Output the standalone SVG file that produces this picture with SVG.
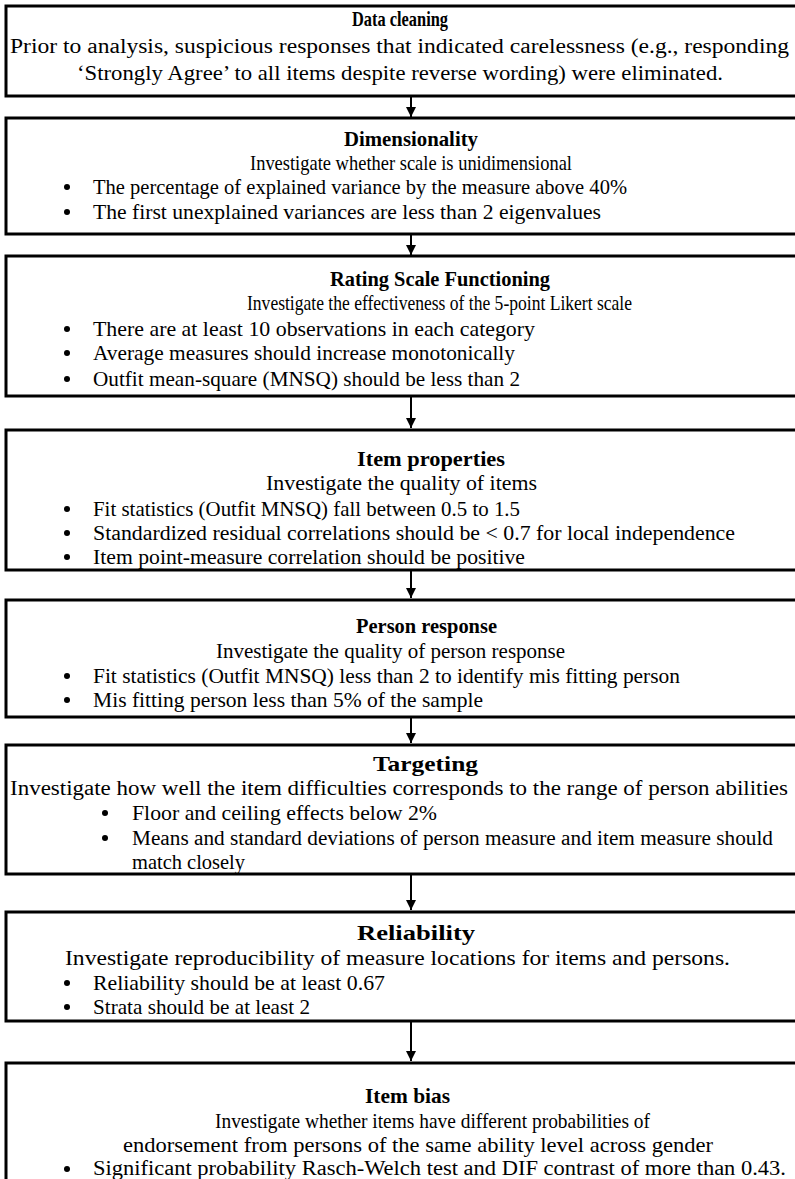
<svg xmlns="http://www.w3.org/2000/svg" width="795" height="1179" viewBox="0 0 795 1179">
<style>
.box{fill:#fff;stroke:#000;stroke-width:3}
text{font-family:"Liberation Serif","Times New Roman",serif;font-size:22px;fill:#000}
.t{font-weight:bold}
.w{font-size:20px}
.b{fill:#000}
.c{stroke:#000;stroke-width:2;fill:none}
</style>
<defs>
<marker id="ah" viewBox="0 0 10 10" refX="10" refY="5" markerWidth="5" markerHeight="5" orient="auto" markerUnits="strokeWidth">
<path d="M0,0 L10,5 L0,10 z" fill="#000"/>
</marker>
</defs>
<rect width="795" height="1179" fill="#fff"/>
<g id="connectors">
<line class="c" x1="411" y1="97" x2="411" y2="117" marker-end="url(#ah)"/>
<line class="c" x1="411" y1="235" x2="411" y2="255" marker-end="url(#ah)"/>
<line class="c" x1="411" y1="397" x2="411" y2="428" marker-end="url(#ah)"/>
<line class="c" x1="411" y1="571" x2="411" y2="598" marker-end="url(#ah)"/>
<line class="c" x1="411" y1="718" x2="411" y2="743" marker-end="url(#ah)"/>
<line class="c" x1="411" y1="875" x2="411" y2="910" marker-end="url(#ah)"/>
<line class="c" x1="411" y1="1022" x2="411" y2="1061" marker-end="url(#ah)"/>
</g>
<g id="node1">
<rect class="box" x="6" y="6" width="800" height="90"/>
<text class="t" x="352" y="26" textLength="96" lengthAdjust="spacingAndGlyphs">Data cleaning</text>
<text class="w" x="10" y="53" textLength="779" lengthAdjust="spacingAndGlyphs">Prior to analysis, suspicious responses that indicated carelessness (e.g., responding</text>
<text x="77" y="80" textLength="646" lengthAdjust="spacingAndGlyphs">‘Strongly Agree’ to all items despite reverse wording) were eliminated.</text>
</g>
<g id="node2">
<rect class="box" x="6" y="118" width="800" height="116"/>
<text class="t" x="344" y="146" textLength="134" lengthAdjust="spacingAndGlyphs">Dimensionality</text>
<text x="250" y="170" textLength="322" lengthAdjust="spacingAndGlyphs">Investigate whether scale is unidimensional</text>
<circle class="b" cx="67" cy="187" r="3"/>
<text x="93" y="194" textLength="534" lengthAdjust="spacingAndGlyphs">The percentage of explained variance by the measure above 40%</text>
<circle class="b" cx="67" cy="212" r="3"/>
<text x="93" y="219" textLength="508" lengthAdjust="spacingAndGlyphs">The first unexplained variances are less than 2 eigenvalues</text>
</g>
<g id="node3">
<rect class="box" x="6" y="256" width="800" height="140"/>
<text class="t" x="330" y="286" textLength="220" lengthAdjust="spacingAndGlyphs">Rating Scale Functioning</text>
<text x="247" y="310" textLength="385" lengthAdjust="spacingAndGlyphs">Investigate the effectiveness of the 5-point Likert scale</text>
<circle class="b" cx="67" cy="329" r="3"/>
<text x="93" y="336" textLength="442" lengthAdjust="spacingAndGlyphs">There are at least 10 observations in each category</text>
<circle class="b" cx="67" cy="353" r="3"/>
<text x="93" y="360" textLength="422" lengthAdjust="spacingAndGlyphs">Average measures should increase monotonically</text>
<circle class="b" cx="67" cy="379" r="3"/>
<text x="93" y="386" textLength="427" lengthAdjust="spacingAndGlyphs">Outfit mean-square (MNSQ) should be less than 2</text>
</g>
<g id="node4">
<rect class="box" x="6" y="430" width="800" height="140"/>
<text class="t" x="357" y="466" textLength="148" lengthAdjust="spacingAndGlyphs">Item properties</text>
<text x="266" y="490" textLength="271" lengthAdjust="spacingAndGlyphs">Investigate the quality of items</text>
<circle class="b" cx="67" cy="509" r="3"/>
<text x="93" y="516" textLength="427" lengthAdjust="spacingAndGlyphs">Fit statistics (Outfit MNSQ) fall between 0.5 to 1.5</text>
<circle class="b" cx="67" cy="533" r="3"/>
<text class="w" x="93" y="540" textLength="642" lengthAdjust="spacingAndGlyphs">Standardized residual correlations should be &lt; 0.7 for local independence</text>
<circle class="b" cx="67" cy="557" r="3"/>
<text x="93" y="564" textLength="432" lengthAdjust="spacingAndGlyphs">Item point-measure correlation should be positive</text>
</g>
<g id="node5">
<rect class="box" x="6" y="600" width="800" height="117"/>
<text class="t" x="356" y="633" textLength="141" lengthAdjust="spacingAndGlyphs">Person response</text>
<text x="216" y="658" textLength="349" lengthAdjust="spacingAndGlyphs">Investigate the quality of person response</text>
<circle class="b" cx="67" cy="676" r="3"/>
<text x="93" y="683" textLength="587" lengthAdjust="spacingAndGlyphs">Fit statistics (Outfit MNSQ) less than 2 to identify mis fitting person</text>
<circle class="b" cx="67" cy="700" r="3"/>
<text x="93" y="707" textLength="390" lengthAdjust="spacingAndGlyphs">Mis fitting person less than 5% of the sample</text>
</g>
<g id="node6">
<rect class="box" x="6" y="745" width="800" height="129"/>
<text class="t" x="373" y="771" textLength="105" lengthAdjust="spacingAndGlyphs">Targeting</text>
<text class="w" x="10" y="795" textLength="778" lengthAdjust="spacingAndGlyphs">Investigate how well the item difficulties corresponds to the range of person abilities</text>
<circle class="b" cx="105" cy="813" r="3"/>
<text x="132" y="820" textLength="305" lengthAdjust="spacingAndGlyphs">Floor and ceiling effects below 2%</text>
<circle class="b" cx="105" cy="838" r="3"/>
<text class="w" x="132" y="845" textLength="641" lengthAdjust="spacingAndGlyphs">Means and standard deviations of person measure and item measure should</text>
<text x="132" y="869" textLength="113" lengthAdjust="spacingAndGlyphs">match closely</text>
</g>
<g id="node7">
<rect class="box" x="6" y="912" width="800" height="109"/>
<text class="t" x="357" y="940" textLength="118" lengthAdjust="spacingAndGlyphs">Reliability</text>
<text x="65" y="965" textLength="665" lengthAdjust="spacingAndGlyphs">Investigate reproducibility of measure locations for items and persons.</text>
<circle class="b" cx="67" cy="983" r="3"/>
<text x="93" y="990" textLength="292" lengthAdjust="spacingAndGlyphs">Reliability should be at least 0.67</text>
<circle class="b" cx="67" cy="1007" r="3"/>
<text x="93" y="1014" textLength="217" lengthAdjust="spacingAndGlyphs">Strata should be at least 2</text>
</g>
<g id="node8">
<rect class="box" x="6" y="1063" width="800" height="130"/>
<text class="t" x="365" y="1103" textLength="85" lengthAdjust="spacingAndGlyphs">Item bias</text>
<text x="215" y="1128" textLength="435" lengthAdjust="spacingAndGlyphs">Investigate whether items have different probabilities of</text>
<text x="123" y="1152" textLength="590" lengthAdjust="spacingAndGlyphs">endorsement from persons of the same ability level across gender</text>
<circle class="b" cx="67" cy="1169" r="3"/>
<text class="w" x="93" y="1175" textLength="693" lengthAdjust="spacingAndGlyphs">Significant probability Rasch-Welch test and DIF contrast of more than 0.43.</text>
</g>
</svg>
